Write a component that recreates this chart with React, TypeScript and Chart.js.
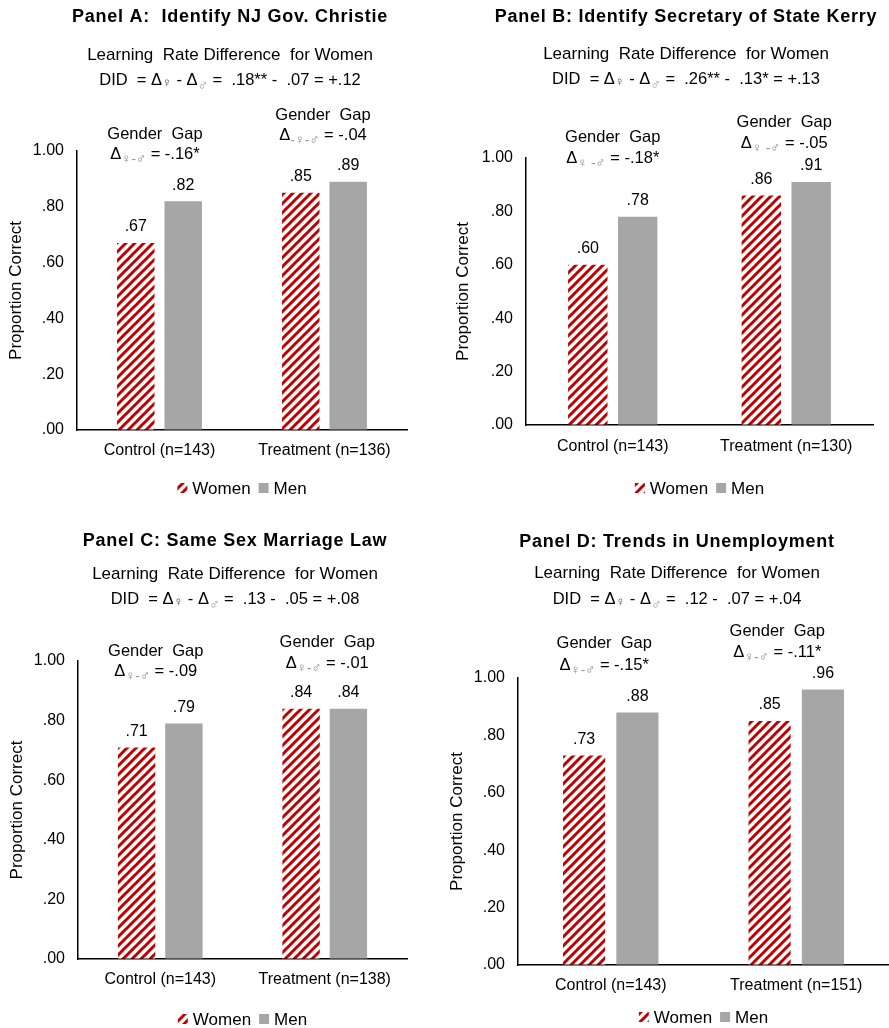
import React, { useEffect, useRef } from "react";
import { Chart, registerables } from "chart.js";
Chart.register(...registerables);

const FONT = "'Liberation Sans', Arial, 'DejaVu Sans', sans-serif";
const RED = "#C00000";
const GRAY = "#A6A6A6";

const seriesNames = ["Women", "Men"];
const yAxisTitle = "Proportion Correct";
const subtitleText = "Learning  Rate Difference  for Women";
const gapLabel = "Gender  Gap";

// Panel A
const titleA = "Panel A:  Identify NJ Gov. Christie";
const categoriesA = ["Control (n=143)", "Treatment (n=136)"];
const womenA = [0.67, 0.85];
const menA = [0.82, 0.89];
const gapSubA = ["\u2640-\u2642", "-\u2640-\u2642"];
const gapValA = ["= -.16*", "= -.04"];
const didA = [".18**", ".07", "+.12"];

// Panel B
const titleB = "Panel B: Identify Secretary of State Kerry";
const categoriesB = ["Control (n=143)", "Treatment (n=130)"];
const womenB = [0.6, 0.86];
const menB = [0.78, 0.91];
const gapSubB = ["\u2640 -\u2642", "\u2640 -\u2642"];
const gapValB = ["= -.18*", "= -.05"];
const didB = [".26**", ".13*", "+.13"];

// Panel C
const titleC = "Panel C: Same Sex Marriage Law";
const categoriesC = ["Control (n=143)", "Treatment (n=138)"];
const womenC = [0.71, 0.84];
const menC = [0.79, 0.84];
const gapSubC = ["\u2640-\u2642", "\u2640-\u2642"];
const gapValC = ["= -.09", "= -.01"];
const didC = [".13", ".05", "+.08"];

// Panel D
const titleD = "Panel D: Trends in Unemployment";
const categoriesD = ["Control (n=143)", "Treatment (n=151)"];
const womenD = [0.73, 0.85];
const menD = [0.88, 0.96];
const gapSubD = ["\u2640-\u2642", "\u2640-\u2642"];
const gapValD = ["= -.15*", "= -.11*"];
const didD = [".12", ".07", "+.04"];

// Layout (positions only)
const LAYOUT = {
  A: { left: 0, top: 0, w: 445, h: 515, ca: { l: 77, r: 407, t: 151, b: 430 }, titleX: 230, titleY: 17, sub1Y: 55, sub2Y: 79, xLabelY: 450, legendY: 488, yTitleX: 16,
    gap: [{ dx: -4.5, gy: -17, dy: 2 }, { dx: -1.5, gy: -36, dy: -17 }] },
  B: { left: 445, top: 0, w: 444, h: 515, ca: { l: 81, r: 428, t: 158, b: 425 }, titleX: 241, titleY: 17, sub1Y: 54, sub2Y: 78, xLabelY: 446, legendY: 488, yTitleX: 18,
    gap: [{ dx: 0, gy: -21, dy: -1 }, { dx: -2, gy: -36, dy: -16 }] },
  C: { left: 0, top: 515, w: 445, h: 513, ca: { l: 78, r: 407, t: 146, b: 444 }, titleX: 235, titleY: 26, sub1Y: 59, sub2Y: 83, xLabelY: 464, legendY: 504, yTitleX: 17,
    gap: [{ dx: -4.5, gy: -10, dy: 9 }, { dx: 2.5, gy: -19, dy: 1 }] },
  D: { left: 445, top: 515, w: 444, h: 513, ca: { l: 73, r: 444, t: 163, b: 450 }, titleX: 232, titleY: 27, sub1Y: 58, sub2Y: 83, xLabelY: 470, legendY: 502, yTitleX: 12,
    gap: [{ dx: -6.5, gy: -35, dy: -14 }, { dx: -19, gy: -47, dy: -27 }] },
};

const PANELS = [
  { key: "A", title: titleA, categories: categoriesA, women: womenA, men: menA, gapSub: gapSubA, gapVal: gapValA, did: didA },
  { key: "B", title: titleB, categories: categoriesB, women: womenB, men: menB, gapSub: gapSubB, gapVal: gapValB, did: didB },
  { key: "C", title: titleC, categories: categoriesC, women: womenC, men: menC, gapSub: gapSubC, gapVal: gapValC, did: didC },
  { key: "D", title: titleD, categories: categoriesD, women: womenD, men: menD, gapSub: gapSubD, gapVal: gapValD, did: didD },
];

const fmt = (v: number) => Number(v).toFixed(2).replace(/^0/, "").replace(/^-0/, "-");

function makePattern(): CanvasPattern | string {
  const s = 9;
  const c = document.createElement("canvas");
  c.width = s;
  c.height = s;
  const g = c.getContext("2d");
  if (!g) return RED;
  g.fillStyle = "#ffffff";
  g.fillRect(0, 0, s, s);
  g.strokeStyle = RED;
  g.lineWidth = 3;
  g.lineCap = "square";
  const lines = [
    [0, s, s, 0],
    [-s, s, s, -s],
    [0, 2 * s, 2 * s, 0],
  ];
  lines.forEach(([a, b, c2, d]) => {
    g.beginPath();
    g.moveTo(a, b);
    g.lineTo(c2, d);
    g.stroke();
  });
  const pat = g.createPattern(c, "repeat");
  return pat || RED;
}

type Seg = { t: string; size?: number; color?: string; dy?: number; bold?: boolean };

function drawRich(ctx: CanvasRenderingContext2D, segs: Seg[], cx: number, cy: number, baseSize = 16.5) {
  const widths = segs.map((s) => {
    ctx.font = `${s.bold ? "bold " : ""}${s.size || baseSize}px ${FONT}`;
    return ctx.measureText(s.t).width;
  });
  const total = widths.reduce((a, b) => a + b, 0);
  let x = cx - total / 2;
  const base = cy + 6;
  ctx.textAlign = "left";
  ctx.textBaseline = "alphabetic";
  segs.forEach((s, i) => {
    ctx.font = `${s.bold ? "bold " : ""}${s.size || baseSize}px ${FONT}`;
    ctx.fillStyle = s.color || "#000";
    ctx.fillText(s.t, x, base + (s.dy || 0));
    x += widths[i];
  });
}

function makeDecor(p: any, L: any, pattern: any) {
  return {
    id: "panelDecor" + p.key,
    afterDraw(chart: any) {
      const ctx: any = chart.ctx;
      const ca = chart.chartArea;
      const xs = chart.scales.x;
      ctx.save();
      ctx.fillStyle = "#000";
      ctx.textAlign = "center";
      ctx.textBaseline = "middle";
      ctx.font = `bold 18px ${FONT}`;
      if ("letterSpacing" in ctx) ctx.letterSpacing = "0.75px";
      ctx.fillText(p.title, L.titleX, L.titleY);
      if ("letterSpacing" in ctx) ctx.letterSpacing = "0px";
      ctx.font = `17px ${FONT}`;
      ctx.fillText(subtitleText, L.titleX, L.sub1Y);
      drawRich(
        ctx,
        [
          { t: "DID  = \u0394" },
          { t: "\u2640", size: 13, color: "#404040", dy: 2 },
          { t: " - \u0394" },
          { t: "\u2642", size: 14, color: "#9a9a9a", dy: 5 },
          { t: " =  " + p.did[0] + " -  " + p.did[1] + " = " + p.did[2] },
        ],
        L.titleX,
        L.sub2Y
      );

      // value labels
      ctx.textAlign = "center";
      ctx.textBaseline = "middle";
      ctx.font = `16px ${FONT}`;
      ctx.fillStyle = "#000";
      [0, 1].forEach((di) => {
        const meta = chart.getDatasetMeta(di);
        const vals = chart.data.datasets[di].data;
        meta.data.forEach((bar: any, j: number) => {
          ctx.fillText(fmt(vals[j]), bar.x, bar.y - 16);
        });
      });

      // gender gap annotations
      p.categories.forEach((_: string, j: number) => {
        const g = L.gap[j];
        const cx = xs.getPixelForValue(j) + g.dx;
        ctx.textAlign = "center";
        ctx.textBaseline = "middle";
        ctx.font = `16.5px ${FONT}`;
        ctx.fillStyle = "#000";
        ctx.fillText(gapLabel, cx, ca.top + g.gy);
        drawRich(
          ctx,
          [
            { t: "\u0394" },
            { t: p.gapSub[j], size: 13.5, color: "#8c8c8c", dy: 4 },
            { t: " " + p.gapVal[j] },
          ],
          cx,
          ca.top + g.dy
        );
      });

      // legend
      ctx.font = `17px ${FONT}`;
      const box = 10;
      const gapBT = 5;
      const gapItems = 8;
      const w0 = ctx.measureText(seriesNames[0]).width;
      const w1 = ctx.measureText(seriesNames[1]).width;
      const total = box + gapBT + w0 + gapItems + box + gapBT + w1;
      let x = (ca.left + ca.right) / 2 - total / 2;
      const ly = L.legendY;
      ctx.fillStyle = pattern;
      ctx.fillRect(x, ly - box / 2, box, box);
      x += box + gapBT;
      ctx.fillStyle = "#000";
      ctx.textAlign = "left";
      ctx.textBaseline = "middle";
      ctx.fillText(seriesNames[0], x, ly + 1);
      x += w0 + gapItems;
      ctx.fillStyle = GRAY;
      ctx.fillRect(x, ly - box / 2, box, box);
      x += box + gapBT;
      ctx.fillStyle = "#000";
      ctx.fillText(seriesNames[1], x, ly + 1);
      ctx.restore();
    },
  };
}

function buildChart(canvas: HTMLCanvasElement, p: any) {
  const L = (LAYOUT as any)[p.key];
  const pattern = makePattern();
  const xAxisH = 30;
  const font = { family: FONT, size: 16 };
  return new Chart(canvas, {
    type: "bar",
    data: {
      labels: p.categories,
      datasets: [
        { label: seriesNames[0], data: p.women, backgroundColor: pattern as any, borderWidth: 0 },
        { label: seriesNames[1], data: p.men, backgroundColor: GRAY, borderWidth: 0 },
      ],
    },
    options: {
      animation: false,
      responsive: false,
      maintainAspectRatio: false,
      events: [],
      layout: { padding: { top: L.ca.t, right: L.w - L.ca.r, bottom: L.h - L.ca.b - xAxisH, left: 0 } },
      datasets: { bar: { categoryPercentage: 0.575, barPercentage: 0.79 } },
      plugins: { legend: { display: false }, tooltip: { enabled: false }, title: { display: false } },
      scales: {
        x: {
          grid: { display: true, drawOnChartArea: false, drawTicks: false },
          border: { display: true, color: "#000", width: 1.5 },
          ticks: { color: "#000", font, padding: L.xLabelY - L.ca.b - 9 },
          afterFit: (s: any) => { s.height = xAxisH; },
        },
        y: {
          min: 0,
          max: 1,
          grid: { display: true, drawOnChartArea: false, drawTicks: false },
          border: { display: true, color: "#000", width: 1.5 },
          ticks: { stepSize: 0.2, color: "#000", font, padding: 13, callback: (v: any) => fmt(Number(v)) },
          title: { display: true, text: yAxisTitle, color: "#000", font: { family: FONT, size: 17 }, padding: { top: L.yTitleX - 10.2, bottom: 0 } },
          afterFit: (s: any) => { s.width = L.ca.l; },
        },
      },
    } as any,
    plugins: [makeDecor(p, L, pattern)],
  });
}

export default function App() {
  const refs = [useRef<HTMLCanvasElement>(null), useRef<HTMLCanvasElement>(null), useRef<HTMLCanvasElement>(null), useRef<HTMLCanvasElement>(null)];
  useEffect(() => {
    const charts = PANELS.map((p, i) => buildChart(refs[i].current as HTMLCanvasElement, p));
    return () => charts.forEach((c) => c.destroy());
  }, []);
  return (
    <div style={{ position: "absolute", left: 0, top: 0, width: 889, height: 1028, background: "#fff", overflow: "hidden" }}>
      {PANELS.map((p, i) => {
        const L = (LAYOUT as any)[p.key];
        return (
          <canvas
            key={p.key}
            ref={refs[i]}
            width={L.w}
            height={L.h}
            style={{ position: "absolute", left: L.left, top: L.top, width: L.w, height: L.h, display: "block" }}
          />
        );
      })}
    </div>
  );
}
